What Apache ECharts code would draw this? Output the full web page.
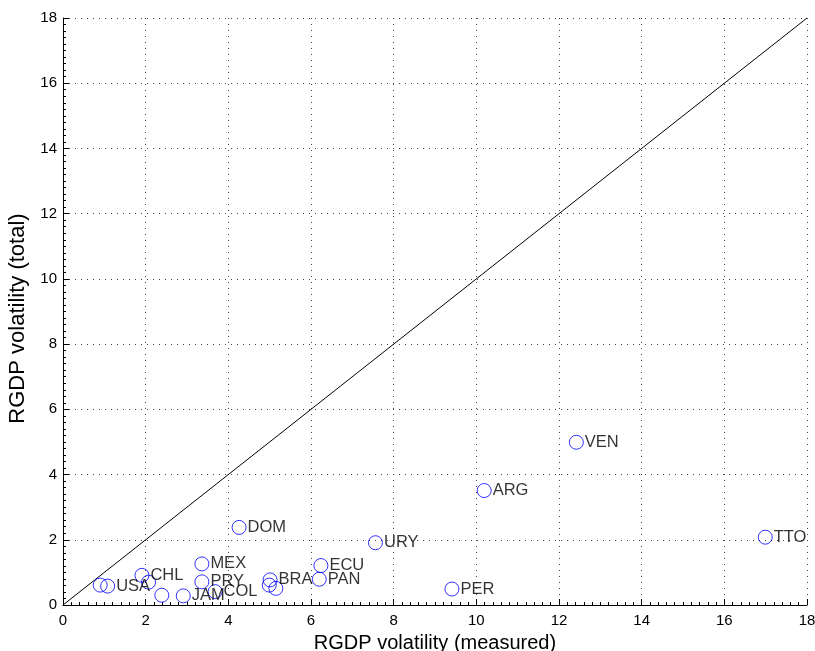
<!DOCTYPE html>
<html>
<head>
<meta charset="utf-8">
<script src="https://cdn.jsdelivr.net/npm/echarts@6/dist/echarts.min.js"></script>
<style>
html,body{margin:0;padding:0;background:#fff;}
#c{width:815px;height:651px;}
</style>
</head>
<body>
<div id="c"></div>
<script>
const countries = ["USA","","CHL","","","JAM","MEX","PRY","COL","BRA","","","ECU","PAN","URY","PER","DOM","ARG","VEN","TTO"];
const measured  = [1.08, 0.90, 1.91, 2.07, 2.39, 2.91, 3.36, 3.36, 3.68, 5.01, 4.99, 5.15, 6.24, 6.20, 7.56, 9.41, 4.26, 10.19, 12.42, 16.99];
const total     = [0.58, 0.61, 0.91, 0.70, 0.30, 0.28, 1.26, 0.71, 0.41, 0.77, 0.61, 0.51, 1.21, 0.79, 1.91, 0.49, 2.38, 3.51, 4.99, 2.08];
const diagonal  = [[0,0],[18,18]];
const xTitle = "RGDP volatility (measured)";
const yTitle = "RGDP volatility (total)";

const font = "'Liberation Sans', Arial, Helvetica, sans-serif";
const pts = measured.map((x,i)=>({value:[x,total[i]], name:countries[i]}));

function axis(name, gap, rot){
  return {
    type:'value', min:0, max:18, interval:2,
    name:name, nameLocation:'middle', nameGap:gap, nameRotate:rot,
    nameTextStyle:{color:'#000', fontSize:20, fontFamily:font},
    axisLine:{show:true, onZero:false, lineStyle:{color:'#000', width:1}},
    axisTick:{show:true, inside:true, length:6, lineStyle:{color:'#000'}},
    minorTick:{show:true, splitNumber:10, length:3, lineStyle:{color:'#000'}},
    axisLabel:{color:'#000', fontSize:15, fontFamily:font, margin:6},
    splitLine:{show:true, lineStyle:{color:'#444', width:1, type:[1,5]}},
    minorSplitLine:{show:false}
  };
}
const chart = echarts.init(document.getElementById('c'), null, {renderer:'canvas'});
const xa = axis(xTitle, 28, 0);
const ya = axis(yTitle, 30, 90);
xa.axisLabel.margin = 8;
ya.nameTextStyle.fontSize = 22;
ya.nameTextStyle.padding = [0, 14, 0, 0];
chart.setOption({
  animation:false,
  backgroundColor:'#fff',
  grid:{left:63, right:8, top:18, bottom:46, containLabel:false, outerBoundsMode:'none'},
  xAxis:xa,
  yAxis:ya,
  series:[
    {type:'line', data:diagonal, showSymbol:false, symbol:'none',
     lineStyle:{color:'#000', width:1}, silent:true, z:1},
    {type:'scatter', data:pts, symbol:'circle', symbolSize:14,
     itemStyle:{color:'rgba(0,0,0,0)', borderColor:'#0000ff', borderWidth:1},
     label:{show:true, position:'right', distance:1, color:'#000', fontSize:16.5, fontFamily:font,
            formatter:p=>p.data.name},
     z:2}
  ]
});
</script>
</body>
</html>
